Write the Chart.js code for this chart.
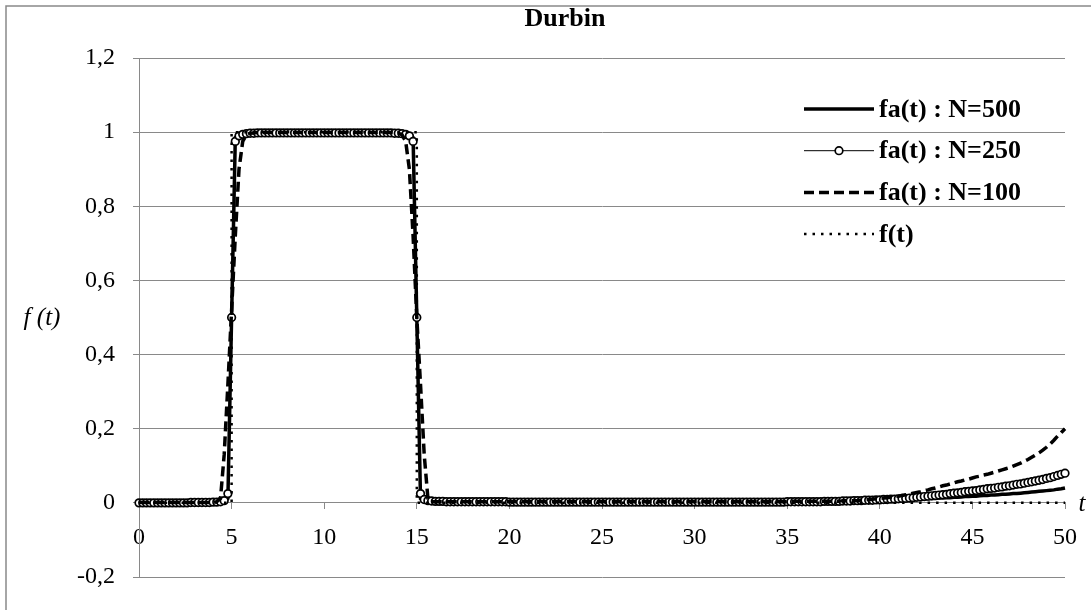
<!DOCTYPE html>
<html>
<head>
<meta charset="utf-8">
<title>Durbin</title>
<script src="https://cdn.jsdelivr.net/npm/chart.js@4.4.1/dist/chart.umd.min.js"></script>
<style>
  html, body { margin: 0; padding: 0; background: #fff; }
  #wrap { width: 1091px; height: 610px; }
</style>
</head>
<body>
<div id="wrap"><canvas id="canvas" width="1091" height="610"></canvas></div>
<script>
// titre et noms des series
const chartTitle = "Durbin";
const seriesNames = ["fa(t) : N=500", "fa(t) : N=250", "fa(t) : N=100", "f(t)"];

// axe des temps : pas de 0,2
const tValues = [
  0,0.2,0.4,0.6,0.8, 1,1.2,1.4,1.6,1.8, 2,2.2,2.4,2.6,2.8, 3,3.2,3.4,3.6,3.8, 4,4.2,4.4,4.6,4.8,
  5,5.2,5.4,5.6,5.8, 6,6.2,6.4,6.6,6.8, 7,7.2,7.4,7.6,7.8, 8,8.2,8.4,8.6,8.8, 9,9.2,9.4,9.6,9.8,
  10,10.2,10.4,10.6,10.8, 11,11.2,11.4,11.6,11.8, 12,12.2,12.4,12.6,12.8, 13,13.2,13.4,13.6,13.8, 14,14.2,14.4,14.6,14.8,
  15,15.2,15.4,15.6,15.8, 16,16.2,16.4,16.6,16.8, 17,17.2,17.4,17.6,17.8, 18,18.2,18.4,18.6,18.8, 19,19.2,19.4,19.6,19.8,
  20,20.2,20.4,20.6,20.8, 21,21.2,21.4,21.6,21.8, 22,22.2,22.4,22.6,22.8, 23,23.2,23.4,23.6,23.8, 24,24.2,24.4,24.6,24.8,
  25,25.2,25.4,25.6,25.8, 26,26.2,26.4,26.6,26.8, 27,27.2,27.4,27.6,27.8, 28,28.2,28.4,28.6,28.8, 29,29.2,29.4,29.6,29.8,
  30,30.2,30.4,30.6,30.8, 31,31.2,31.4,31.6,31.8, 32,32.2,32.4,32.6,32.8, 33,33.2,33.4,33.6,33.8, 34,34.2,34.4,34.6,34.8,
  35,35.2,35.4,35.6,35.8, 36,36.2,36.4,36.6,36.8, 37,37.2,37.4,37.6,37.8, 38,38.2,38.4,38.6,38.8, 39,39.2,39.4,39.6,39.8,
  40,40.2,40.4,40.6,40.8, 41,41.2,41.4,41.6,41.8, 42,42.2,42.4,42.6,42.8, 43,43.2,43.4,43.6,43.8, 44,44.2,44.4,44.6,44.8,
  45,45.2,45.4,45.6,45.8, 46,46.2,46.4,46.6,46.8, 47,47.2,47.4,47.6,47.8, 48,48.2,48.4,48.6,48.8, 49,49.2,49.4,49.6,49.8,
  50
];

// fa(t) pour N=500
const fa500 = [
  0,0,0,0,0, 0,0,0,0,0, 0,0,0,0,0, 0.001,0.001,0.001,0.001,0.001, 0.001,0.001,0.002,0.003,0.012,
  0.5,0.985,0.993,0.995,0.997, 0.998,0.998,0.998,0.998,0.998, 0.998,0.998,0.998,0.998,0.998, 0.998,0.998,0.998,0.998,0.998, 0.998,0.998,0.998,0.998,0.998,
  0.998,0.998,0.998,0.998,0.998, 0.998,0.998,0.998,0.998,0.998, 0.998,0.998,0.998,0.998,0.998, 0.998,0.998,0.998,0.998,0.998, 0.998,0.997,0.995,0.993,0.985,
  0.5,0.012,0.006,0.004,0.003, 0.003,0.003,0.003,0.003,0.003, 0.003,0.003,0.003,0.003,0.003, 0.003,0.003,0.003,0.003,0.003, 0.003,0.003,0.003,0.003,0.003,
  0.002,0.002,0.002,0.002,0.002, 0.002,0.002,0.002,0.002,0.002, 0.002,0.002,0.002,0.002,0.002, 0.002,0.002,0.002,0.002,0.002, 0.002,0.002,0.002,0.002,0.002,
  0.002,0.002,0.002,0.002,0.002, 0.002,0.002,0.002,0.002,0.002, 0.002,0.002,0.002,0.002,0.002, 0.002,0.002,0.002,0.002,0.002, 0.002,0.002,0.002,0.002,0.002,
  0.002,0.002,0.002,0.002,0.002, 0.002,0.002,0.002,0.002,0.002, 0.002,0.002,0.002,0.002,0.002, 0.002,0.002,0.002,0.002,0.002, 0.002,0.002,0.002,0.002,0.002,
  0.003,0.003,0.003,0.003,0.003, 0.003,0.003,0.003,0.003,0.003, 0.003,0.003,0.003,0.003,0.003, 0.004,0.004,0.004,0.004,0.004, 0.005,0.005,0.005,0.005,0.005,
  0.006,0.006,0.006,0.007,0.007, 0.008,0.008,0.008,0.009,0.009, 0.01,0.01,0.011,0.011,0.012, 0.012,0.013,0.013,0.014,0.014, 0.015,0.015,0.016,0.017,0.017,
  0.018,0.018,0.019,0.02,0.02, 0.021,0.021,0.022,0.023,0.023, 0.024,0.025,0.025,0.026,0.027, 0.028,0.029,0.03,0.031,0.032, 0.033,0.034,0.035,0.037,0.038,
  0.04
];

// fa(t) pour N=250
const fa250 = [
  0,0,0,0,0, 0,0,0,0,0, 0,0,0,0,0.001, 0.001,0.001,0.001,0.001,0.001, 0.002,0.002,0.003,0.006,0.025,
  0.5,0.975,0.99,0.994,0.996, 0.997,0.997,0.998,0.998,0.998, 0.998,0.998,0.998,0.998,0.998, 0.998,0.998,0.998,0.998,0.998, 0.998,0.998,0.998,0.998,0.998,
  0.998,0.998,0.998,0.998,0.998, 0.998,0.998,0.998,0.998,0.998, 0.998,0.998,0.998,0.998,0.998, 0.998,0.998,0.998,0.998,0.997, 0.997,0.996,0.994,0.99,0.975,
  0.5,0.025,0.009,0.006,0.005, 0.004,0.004,0.004,0.003,0.003, 0.003,0.003,0.003,0.003,0.003, 0.003,0.003,0.003,0.003,0.003, 0.003,0.003,0.003,0.003,0.003,
  0.002,0.002,0.002,0.002,0.002, 0.002,0.002,0.002,0.002,0.002, 0.002,0.002,0.002,0.002,0.002, 0.002,0.002,0.002,0.002,0.002, 0.002,0.002,0.002,0.002,0.002,
  0.002,0.002,0.002,0.002,0.002, 0.002,0.002,0.002,0.002,0.002, 0.002,0.002,0.002,0.002,0.002, 0.002,0.002,0.002,0.002,0.002, 0.002,0.002,0.002,0.002,0.002,
  0.002,0.002,0.002,0.002,0.002, 0.002,0.002,0.002,0.002,0.002, 0.002,0.002,0.002,0.002,0.002, 0.002,0.002,0.002,0.002,0.002, 0.002,0.002,0.002,0.002,0.002,
  0.003,0.003,0.003,0.003,0.003, 0.003,0.003,0.003,0.003,0.003, 0.004,0.004,0.004,0.004,0.004, 0.005,0.005,0.005,0.006,0.006, 0.006,0.007,0.007,0.007,0.008,
  0.008,0.009,0.009,0.01,0.01, 0.011,0.012,0.012,0.013,0.014, 0.015,0.016,0.017,0.018,0.019, 0.02,0.021,0.022,0.023,0.025, 0.026,0.027,0.028,0.03,0.031,
  0.032,0.033,0.035,0.036,0.038, 0.039,0.04,0.042,0.043,0.045, 0.046,0.048,0.05,0.051,0.053, 0.055,0.057,0.059,0.061,0.063, 0.066,0.068,0.071,0.074,0.077,
  0.08
];

// fa(t) pour N=100
const fa100 = [
  0.001,0.001,0.001,0.001,0.001, 0.001,0.001,0.001,0.001,0.001, 0.001,0.001,0.001,0.001,0.001, 0.001,0.001,0.001,0.001,0.001, 0.001,0.003,0.012,0.13,0.32,
  0.52,0.72,0.9,0.975,0.993, 0.997,0.998,0.999,0.999,0.999, 0.999,0.999,0.999,0.999,0.999, 0.999,0.999,0.999,0.999,0.999, 0.999,0.999,0.999,0.999,0.999,
  0.999,0.999,0.999,0.999,0.999, 0.999,0.999,0.999,0.999,0.999, 0.999,0.999,0.999,0.999,0.999, 0.999,0.999,0.999,0.999,0.998, 0.997,0.993,0.975,0.9,0.72,
  0.5,0.32,0.13,0.012,0.003, 0.003,0.003,0.003,0.003,0.003, 0.003,0.003,0.003,0.003,0.003, 0.003,0.003,0.003,0.003,0.003, 0.003,0.003,0.003,0.003,0.003,
  0.003,0.003,0.003,0.003,0.003, 0.003,0.003,0.003,0.003,0.003, 0.003,0.003,0.003,0.003,0.003, 0.003,0.003,0.003,0.003,0.003, 0.003,0.003,0.003,0.003,0.003,
  0.003,0.003,0.003,0.003,0.003, 0.003,0.003,0.003,0.003,0.003, 0.003,0.003,0.003,0.003,0.003, 0.003,0.003,0.003,0.003,0.003, 0.003,0.003,0.003,0.003,0.003,
  0.003,0.003,0.003,0.003,0.003, 0.003,0.003,0.003,0.003,0.003, 0.003,0.003,0.003,0.003,0.003, 0.003,0.003,0.003,0.003,0.003, 0.003,0.003,0.003,0.003,0.003,
  0.004,0.004,0.004,0.004,0.004, 0.004,0.004,0.004,0.004,0.004, 0.004,0.004,0.004,0.004,0.004, 0.006,0.006,0.006,0.006,0.006, 0.008,0.008,0.009,0.01,0.011,
  0.012,0.013,0.014,0.015,0.017, 0.018,0.02,0.022,0.024,0.026, 0.028,0.03,0.033,0.035,0.038, 0.04,0.043,0.046,0.048,0.051, 0.054,0.057,0.059,0.062,0.064,
  0.067,0.07,0.072,0.075,0.077, 0.08,0.083,0.086,0.089,0.092, 0.095,0.099,0.103,0.107,0.112, 0.117,0.123,0.129,0.135,0.142, 0.15,0.159,0.169,0.18,0.19,
  0.2
];

// fonction exacte f(t) : creneau entre 5 et 15
const fT = [0, 5, 5, 15, 15, 50];
const fV = [0, 0, 1, 1, 0, 0];

// graduations
const xTicks = [0, 5, 10, 15, 20, 25, 30, 35, 40, 45, 50];
const xTickLabels = ["0", "5", "10", "15", "20", "25", "30", "35", "40", "45", "50"];
const yTicks = [-0.2, 0, 0.2, 0.4, 0.6, 0.8, 1, 1.2];
const yTickLabels = ["-0,2", "0", "0,2", "0,4", "0,6", "0,8", "1", "1,2"];

const serif = '"Liberation Serif", "Times New Roman", serif';
const grey = "#898989";

function toPoints(xs, ys) {
  return ys.map((v, i) => ({ x: xs[i], y: v }));
}

// Titre, cadre, titres d'axes et legende dessines a la main
const decor = {
  id: "decor",
  afterDraw(chart) {
    const c = chart.ctx;
    c.save();
    c.strokeStyle = grey;
    c.lineWidth = 1.5;
    c.beginPath();
    c.moveTo(6, 610);
    c.lineTo(6, 6);
    c.lineTo(1091, 6);
    c.stroke();

    c.fillStyle = "#000";
    c.textBaseline = "middle";
    c.textAlign = "center";
    c.font = "bold 26px " + serif;
    c.fillText(chartTitle, 565, 19);

    c.font = "italic 25px " + serif;
    c.fillText("f (t)", 42, 318);
    c.fillText("t", 1082, 504);

    // legende
    c.textAlign = "left";
    c.font = "bold 26px " + serif;
    chart.data.datasets.forEach((ds, i) => {
      const y = 109 + i * 41.7;
      c.save();
      c.strokeStyle = "#000";
      c.lineWidth = ds.borderWidth;
      c.setLineDash(ds.borderDash || []);
      c.beginPath();
      c.moveTo(804, y);
      c.lineTo(874, y);
      c.stroke();
      if (ds.pointRadius > 0) {
        c.setLineDash([]);
        c.lineWidth = ds.pointBorderWidth;
        c.fillStyle = "#fff";
        c.beginPath();
        c.arc(839, y, ds.pointRadius, 0, Math.PI * 2);
        c.fill();
        c.stroke();
      }
      c.restore();
      c.fillText(ds.label, 879, y + 1);
    });
    c.restore();
  }
};

var ctx = document.getElementById("canvas").getContext("2d");
var chart = new Chart(ctx, {
  type: "line",
  data: {
    datasets: [
      {
        label: seriesNames[3],
        data: toPoints(fT, fV),
        borderColor: "#000",
        borderWidth: 2.5,
        borderDash: [2.5, 6],
        pointRadius: 0,
        order: 0
      },
      {
        label: seriesNames[2],
        data: toPoints(tValues, fa100),
        borderColor: "#000",
        borderWidth: 3.5,
        borderDash: [10, 5],
        pointRadius: 0,
        order: 1
      },
      {
        label: seriesNames[1],
        data: toPoints(tValues, fa250),
        borderColor: "#000",
        borderWidth: 1,
        pointRadius: 3.8,
        pointBorderWidth: 1.7,
        pointBackgroundColor: "#fff",
        pointBorderColor: "#000",
        order: 2
      },
      {
        label: seriesNames[0],
        data: toPoints(tValues, fa500),
        borderColor: "#000",
        borderWidth: 3.5,
        pointRadius: 0,
        order: 3
      }
    ].reverse()
  },
  options: {
    responsive: false,
    animation: false,
    clip: 8,
    layout: { padding: { top: 58, bottom: 33, left: 0, right: 26 } },
    plugins: {
      legend: { display: false },
      title: { display: false },
      tooltip: { enabled: false }
    },
    elements: { line: { tension: 0 } },
    scales: {
      x: {
        type: "linear",
        min: 0,
        max: 50,
        position: { y: 0 },
        afterBuildTicks: (scale) => { scale.ticks = xTicks.map(v => ({ value: v })); },
        ticks: {
          autoSkip: false,
          maxRotation: 0,
          padding: 14,
          color: "#000",
          font: { family: serif, size: 24 },
          callback: (v, i) => xTickLabels[i]
        },
        grid: { drawOnChartArea: false, drawTicks: true, tickLength: 6, color: grey },
        border: { display: true, color: grey, width: 1 }
      },
      y: {
        min: -0.2,
        max: 1.2,
        afterFit: (scale) => { scale.width = 139; },
        afterBuildTicks: (scale) => { scale.ticks = yTicks.map(v => ({ value: v })); },
        ticks: {
          padding: 18,
          color: "#000",
          font: { family: serif, size: 24 },
          callback: (v, i) => yTickLabels[i]
        },
        grid: { color: grey, lineWidth: 1, tickLength: 6, drawTicks: true },
        border: { display: true, color: grey, width: 1 }
      }
    }
  },
  plugins: [decor]
});
</script>
</body>
</html>
